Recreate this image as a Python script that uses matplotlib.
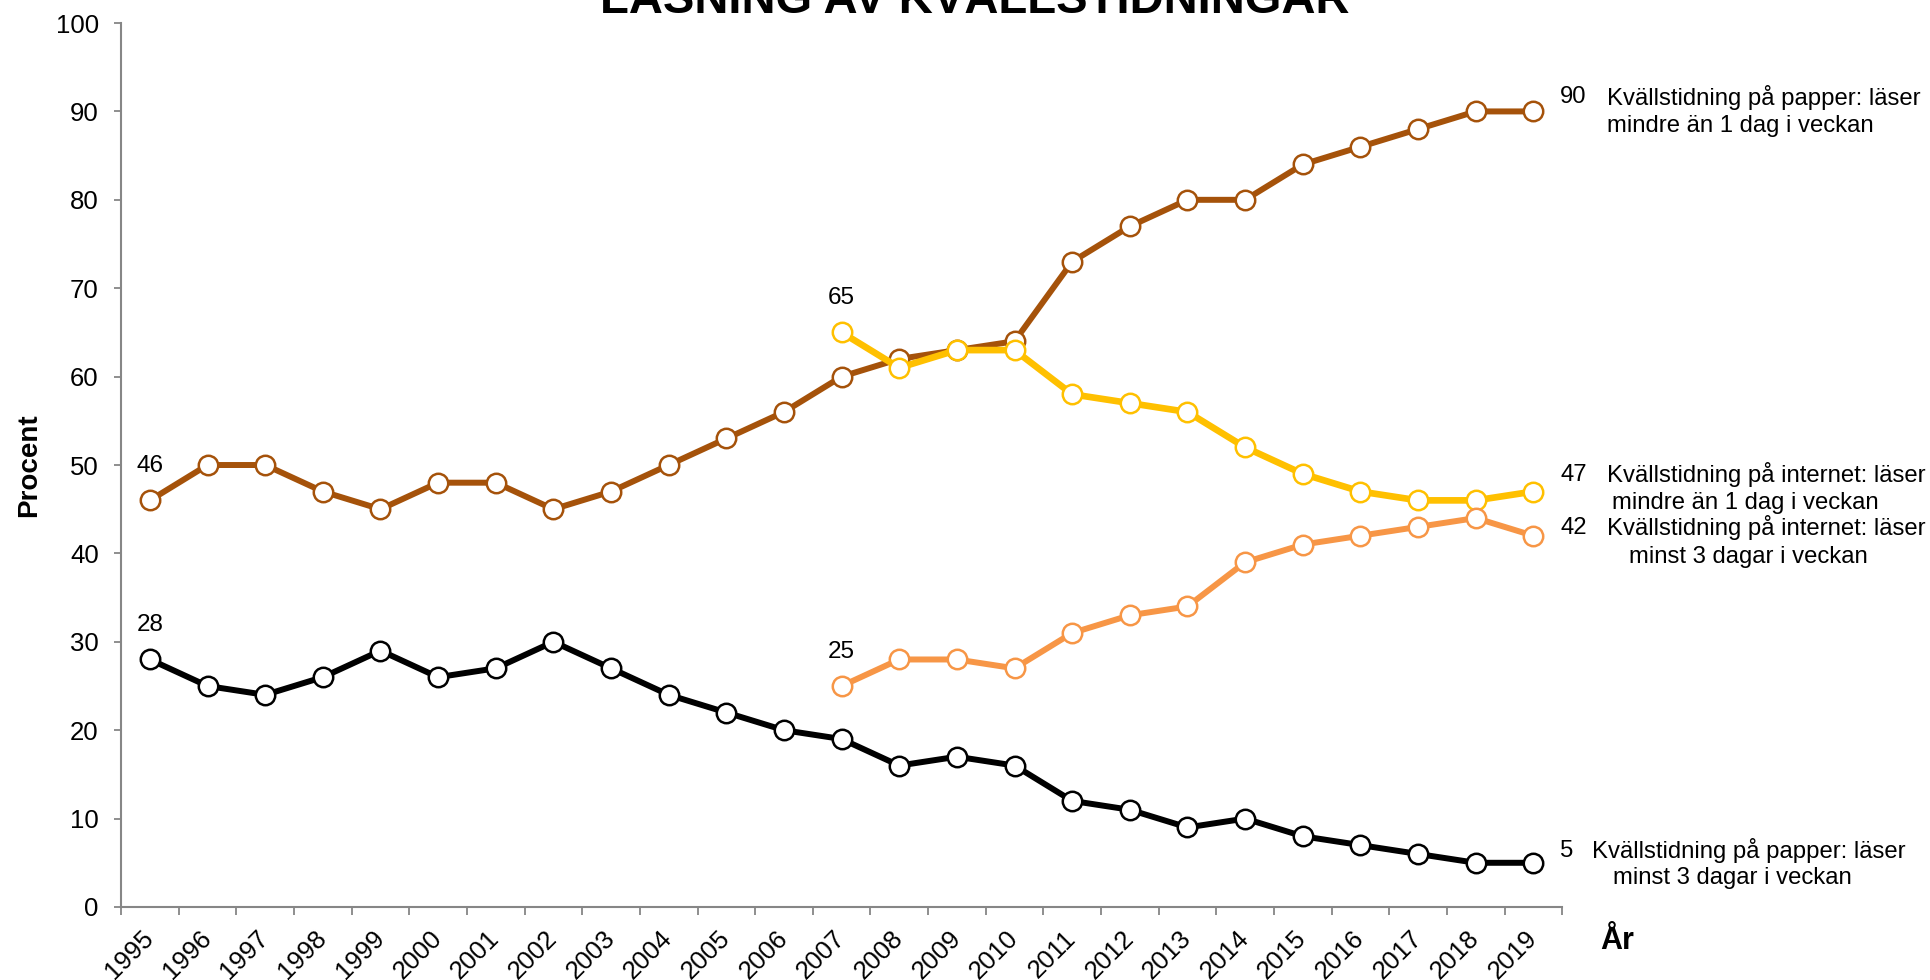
import matplotlib
matplotlib.use("Agg")
import matplotlib.pyplot as plt
import numpy as np

plt.rcParams['font.family'] = ['Liberation Sans', 'DejaVu Sans']

years = [str(y) for y in range(1995, 2020)]
papper_mindre = [46, 50, 50, 47, 45, 48, 48, 45, 47, 50, 53, 56, 60, 62, 63, 64,
                 73, 77, 80, 80, 84, 86, 88, 90, 90]
papper_minst3 = [28, 25, 24, 26, 29, 26, 27, 30, 27, 24, 22, 20, 19, 16, 17, 16,
                 12, 11, 9, 10, 8, 7, 6, 5, 5]
internet_years = [str(y) for y in range(2007, 2020)]
internet_mindre = [65, 61, 63, 63, 58, 57, 56, 52, 49, 47, 46, 46, 47]
internet_minst3 = [25, 28, 28, 27, 31, 33, 34, 39, 41, 42, 43, 44, 42]

title = "LÄSNING AV KVÄLLSTIDNINGAR"
ylabel = "Procent"
xlabel = "År"

c_brown = "#A5520A"
c_black = "#000000"
c_yellow = "#FFC000"
c_orange = "#F79646"
grey = "#868686"

fig = plt.figure(figsize=(19.31, 9.80), dpi=100)
ax = fig.add_axes([0.0627, 0.0745, 0.7463, 0.902])

xpos = {y: i for i, y in enumerate(years)}
x_all = [xpos[y] for y in years]
x_int = [xpos[y] for y in internet_years]

series = [
    (x_all, papper_mindre, c_brown, 4.3),
    (x_int, internet_mindre, c_yellow, 4.8),
    (x_int, internet_minst3, c_orange, 4.3),
    (x_all, papper_minst3, c_black, 4.3),
]
for xs, ys, col, lw in series:
    ax.plot(xs, ys, color=col, lw=lw, marker='o', markersize=14,
            markerfacecolor='white', markeredgecolor=col, markeredgewidth=1.8,
            solid_joinstyle='round', zorder=3)

ax.set_xlim(-0.5, len(years) - 0.5)
ax.set_ylim(0, 100)
ax.set_yticks(range(0, 101, 10))
ax.tick_params(axis='y', direction='out', length=5, width=1.3, color=grey,
               labelsize=18.5, pad=11)
ax.set_xticks(x_all)
ax.set_xticklabels(years, rotation=45, ha='right', va='center',
                   rotation_mode='anchor', fontsize=18.5)
ax.tick_params(axis='x', which='major', length=0, pad=20)
ax.set_xticks(np.arange(-0.5, len(years), 1.0), minor=True)
ax.tick_params(axis='x', which='minor', direction='out', length=6, width=1.3,
               color=grey)

for s in ['top', 'right']:
    ax.spines[s].set_visible(False)
for s in ['left', 'bottom']:
    ax.spines[s].set_color(grey)
    ax.spines[s].set_linewidth(1.5)

ax.set_ylabel(ylabel, fontsize=20, fontweight='bold', labelpad=10)
fig.text(0.8375, 0.04, xlabel, fontsize=22, fontweight='bold',
         ha='center', va='center')
fig.text(0.505, 0.9867, title, fontsize=34, fontweight='bold',
         ha='center', va='baseline')

# first-value labels
for xs, ys in [(x_all, papper_mindre), (x_all, papper_minst3),
               (x_int, internet_mindre), (x_int, internet_minst3)]:
    ax.annotate(str(ys[0]), xy=(xs[0], ys[0]), xytext=(0, 34),
                textcoords='offset pixels', ha='center', va='center',
                fontsize=17.5)

# end labels: value + two description lines
end_labels = [
    (papper_mindre, "Kvällstidning på papper: läser", "mindre än 1 dag i veckan",
     (74, 14), (74, -15)),
    (internet_mindre, "Kvällstidning på internet: läser", "mindre än 1 dag i veckan",
     (74, 17), (79, -11)),
    (internet_minst3, "Kvällstidning på internet: läser", "minst 3 dagar i veckan",
     (74, 8), (96, -21)),
    (papper_minst3, "Kvällstidning på papper: läser", "minst 3 dagar i veckan",
     (59, 12), (80, -15)),
]
xe = len(years) - 1
for ys, l1, l2, o1, o2 in end_labels:
    ax.annotate(str(ys[-1]), xy=(xe, ys[-1]), xytext=(27, o1[1]),
                textcoords='offset pixels', ha='left', va='center',
                fontsize=17.2, annotation_clip=False)
    ax.annotate(l1, xy=(xe, ys[-1]), xytext=o1, textcoords='offset pixels',
                ha='left', va='center', fontsize=17.2, annotation_clip=False)
    ax.annotate(l2, xy=(xe, ys[-1]), xytext=o2, textcoords='offset pixels',
                ha='left', va='center', fontsize=17.2, annotation_clip=False)

fig.savefig("out.png", dpi=100)
